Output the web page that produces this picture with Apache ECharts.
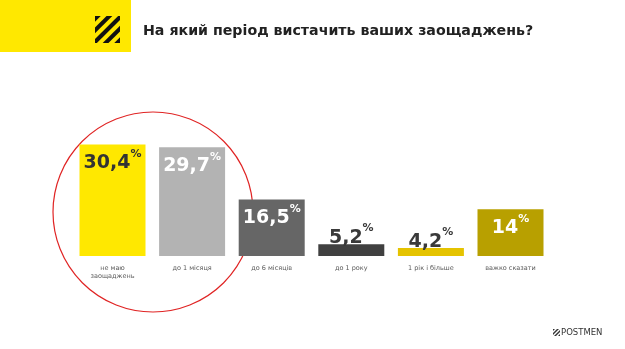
<!DOCTYPE html>
<html>
<head>
<meta charset="utf-8">
<script src="https://cdn.jsdelivr.net/npm/echarts@6/dist/echarts.min.js"></script>
<style>
html,body{margin:0;padding:0;background:#fff;}
#c{width:625px;height:349px;}
</style>
</head>
<body>
<div id="c"></div>
<script>
const title = 'На який період вистачить ваших заощаджень?';
const categories = ['не маю\nзаощаджень', 'до 1 місяця', 'до 6 місяців', 'до 1 року', '1 рік і більше', 'важко сказати'];
const values = [30.4, 29.7, 16.5, 5.2, 4.2, 14];
const valueLabels = ['30,4', '29,7', '16,5', '5,2', '4,2', '14'];

const barColors = ['#FFE800', '#B3B3B3', '#666666', '#404040', '#E5C300', '#B8A000'];
const labelColors = ['#333333', '#ffffff', '#ffffff', '#3a3a3a', '#3a3a3a', '#ffffff'];
const labelInside = [true, true, true, false, false, true];

const FONT = 'DejaVu Sans';

function clipPoly(poly, f) {
  const out = [];
  for (let i = 0; i < poly.length; i++) {
    const a = poly[i], b = poly[(i + 1) % poly.length];
    const fa = f(a), fb = f(b);
    if (fa >= 0) out.push(a);
    if ((fa >= 0) !== (fb >= 0)) {
      const t = fa / (fa - fb);
      out.push([a[0] + t * (b[0] - a[0]), a[1] + t * (b[1] - a[1])]);
    }
  }
  return out;
}
function stripes(x0, y0, w, h, n, color) {
  const sq = [[x0, y0], [x0 + w, y0], [x0 + w, y0 + h], [x0, y0 + h]];
  const cMin = x0 + y0, cMax = x0 + w + y0 + h;
  const step = (cMax - cMin) / n;
  const els = [];
  for (let i = 0; i < n; i += 2) {
    const a = cMin + i * step, b = a + step;
    let p = clipPoly(sq, q => q[0] + q[1] - a);
    p = clipPoly(p, q => b - (q[0] + q[1]));
    if (p.length >= 3) els.push({ type: 'polygon', shape: { points: p }, style: { fill: color } });
  }
  return els;
}

const chart = echarts.init(document.getElementById('c'), null, { renderer: 'canvas' });

const data = values.map((v, i) => ({
  value: v,
  itemStyle: { color: barColors[i] },
  label: {
    show: true,
    position: labelInside[i] ? 'insideTop' : 'top',
    distance: labelInside[i] ? 4 : -3,
    formatter: '{v|' + valueLabels[i] + '}{p|%}',
    rich: {
      v: { fontFamily: FONT, fontSize: 19, fontWeight: 'bold', color: labelColors[i], lineHeight: 24, verticalAlign: 'bottom' },
      p: { fontFamily: FONT, fontSize: 11, fontWeight: 'bold', color: labelColors[i], lineHeight: 14, verticalAlign: 'top' }
    }
  }
}));

const option = {
  backgroundColor: '#ffffff',
  animation: false,
  grid: { left: 72.7, right: 74.7, top: 144.5, bottom: 93, containLabel: false },
  xAxis: {
    type: 'category',
    data: categories,
    axisLine: { show: false },
    axisTick: { show: false },
    axisLabel: { margin: 8, fontFamily: FONT, fontSize: 6.5, color: '#5a5a5a', lineHeight: 8.5, interval: 0 }
  },
  yAxis: { type: 'value', min: 2.2, max: 30.4, show: false, splitLine: { show: false } },
  series: [{ type: 'bar', data: data, barWidth: 66 }],
  graphic: [
    { type: 'rect', shape: { x: 0, y: 0, width: 131, height: 52 }, style: { fill: '#FFE800' } },
    { type: 'group', children: stripes(95, 16, 25, 27, 9, '#111111') },
    { type: 'text', style: { x: 143, y: 31, text: title, font: 'bold 14.2px "' + FONT + '"', fill: '#222222', textVerticalAlign: 'middle' } },
    { type: 'circle', shape: { cx: 153, cy: 212, r: 100 }, style: { fill: 'none', stroke: '#E02424', lineWidth: 1.2 } },
    { type: 'group', children: stripes(553, 329, 7, 7, 7, '#333333') },
    { type: 'text', style: { x: 561, y: 333, text: 'POSTMEN', font: '8.5px "' + FONT + '"', fill: '#333333', textVerticalAlign: 'middle' } }
  ]
};
chart.setOption(option);
</script>
</body>
</html>
